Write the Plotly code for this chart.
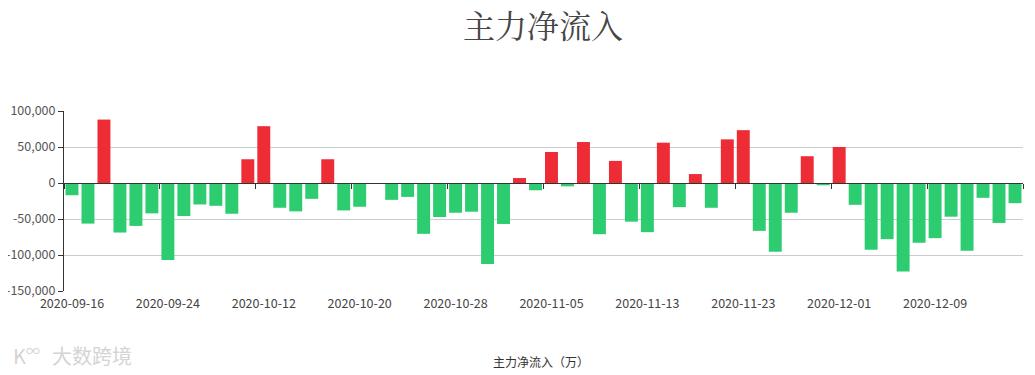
import plotly.graph_objects as go

dates = [
    "2020-09-16", "2020-09-17", "2020-09-18", "2020-09-21", "2020-09-22", "2020-09-23",
    "2020-09-24", "2020-09-25", "2020-09-28", "2020-09-29", "2020-09-30", "2020-10-09",
    "2020-10-12", "2020-10-13", "2020-10-14", "2020-10-15", "2020-10-16", "2020-10-19",
    "2020-10-20", "2020-10-21", "2020-10-22", "2020-10-23", "2020-10-26", "2020-10-27",
    "2020-10-28", "2020-10-29", "2020-10-30", "2020-11-02", "2020-11-03", "2020-11-04",
    "2020-11-05", "2020-11-06", "2020-11-09", "2020-11-10", "2020-11-11", "2020-11-12",
    "2020-11-13", "2020-11-16", "2020-11-17", "2020-11-18", "2020-11-19", "2020-11-20",
    "2020-11-23", "2020-11-24", "2020-11-25", "2020-11-26", "2020-11-27", "2020-11-30",
    "2020-12-01", "2020-12-02", "2020-12-03", "2020-12-04", "2020-12-07", "2020-12-08",
    "2020-12-09", "2020-12-10", "2020-12-11", "2020-12-14", "2020-12-15", "2020-12-16",
]

net_inflow = [
    -17000, -56400, 88100, -68800, -59600, -42200,
    -106900, -45900, -29800, -31700, -42700, 33000,
    78900, -34400, -39400, -22000, 33000, -38100,
    -33000, 0, -23400, -19300, -70600, -47200,
    -41300, -39900, -112400, -56900, 6900, -10100,
    43100, -4600, 56900, -71100, 30700, -53700,
    -68300, 56000, -33500, 12400, -34400, 60600,
    73400, -66500, -95400, -41300, 37200, -3200,
    50000, -30300, -92700, -78000, -122900, -83000,
    -76600, -46800, -94000, -20600, -55500, -28000,
]

y_tick_vals = [100000, 50000, 0, -50000, -100000, -150000]
y_tick_text = ["100,000", "50,000", "0", "-50,000", "-100,000", "-150,000"]
x_tick_dates = dates[::6]

title_text = "主力净流入"
x_axis_name = "主力净流入（万）"
watermark = "大数跨境"
logo = "K<sup>∞</sup>"

UP = "#ee2c36"
DOWN = "#2ecc71"
colors = [UP if v > 0 else DOWN for v in net_inflow]

ymin, ymax = -150000, 100000
n = len(dates)

# the page body has an 8px margin, so the figure is sized/positioned accordingly
W, H = 1027, 367
L, R, T, B = 55.5, 11.5, 103, 84
plot_w = W - L - R
plot_h = H - T - B

fig = go.Figure()
fig.add_trace(go.Bar(
    x=dates, y=net_inflow,
    marker=dict(color=colors, line=dict(width=0)),
    name=title_text,
    hovertemplate="%{x}<br>%{y:,}<extra></extra>",
))

font_family = "Noto Sans CJK SC, Noto Sans, sans-serif"

fig.update_layout(
    width=W, height=H,
    margin=dict(l=L, r=R, t=T, b=B, pad=0),
    paper_bgcolor="white", plot_bgcolor="white",
    bargap=0.19,
    showlegend=False,
    font=dict(family=font_family, size=12, color="#333"),
    title=dict(
        text=title_text, x=535 / W, xanchor="center", y=1 - 19 / H, yanchor="middle",
        font=dict(family="Noto Serif CJK SC, Source Han Serif SC, serif", size=32, color="#464646"),
    ),
    xaxis=dict(
        type="category", range=[-0.5, n - 0.5],
        tickmode="array", tickvals=x_tick_dates, ticktext=x_tick_dates,
        ticks="", showgrid=False, showline=False, zeroline=False,
        tickfont=dict(size=12.5, color="#444"),
        ticklabelstandoff=3,
        automargin=False,
        fixedrange=True,
    ),
    xaxis2=dict(
        type="linear", overlaying="x", anchor="free",
        position=(0 - ymin) / (ymax - ymin),
        range=[-0.5, n - 0.5],
        tickmode="array", tickvals=[i - 0.5 for i in range(0, n + 1, 6)],
        showticklabels=False, ticks="outside", ticklen=5, tickcolor="#333",
        showline=True, linecolor="#333", linewidth=1,
        showgrid=False, zeroline=False, fixedrange=True,
    ),
    yaxis=dict(
        range=[ymin, ymax],
        tickmode="array", tickvals=y_tick_vals, ticktext=y_tick_text,
        showgrid=True, gridcolor="#cccccc", gridwidth=1,
        zeroline=False,
        showline=True, linecolor="#333", linewidth=1,
        ticks="outside", ticklen=5, tickcolor="#333",
        tickfont=dict(size=12.5, color="#555"),
        automargin=False,
        fixedrange=True,
    ),
    annotations=[
        dict(text=x_axis_name, xref="paper", yref="paper", x=(533 - L) / plot_w,
             y=-(353 - (H - B)) / plot_h,
             xanchor="center", yanchor="middle", showarrow=False,
             font=dict(size=12, color="#333")),
        dict(text=logo, xref="paper", yref="paper",
             x=(2 - L) / plot_w, y=-(347 - (H - B)) / plot_h,
             xanchor="left", yanchor="middle", showarrow=False,
             font=dict(size=20, color="#d4d4d4")),
        dict(text=watermark, xref="paper", yref="paper",
             x=(41 - L) / plot_w, y=-(347 - (H - B)) / plot_h,
             xanchor="left", yanchor="middle", showarrow=False,
             font=dict(size=20, color="#d4d4d4")),
    ],
)

# invisible helper trace so the zero-line axis (xaxis2) is attached
fig.add_trace(go.Scatter(x=[-0.5, n - 0.5], y=[0, 0], xaxis="x2", yaxis="y",
                         mode="lines", line=dict(width=0), hoverinfo="skip",
                         showlegend=False))

fig.write_html("out.html")
